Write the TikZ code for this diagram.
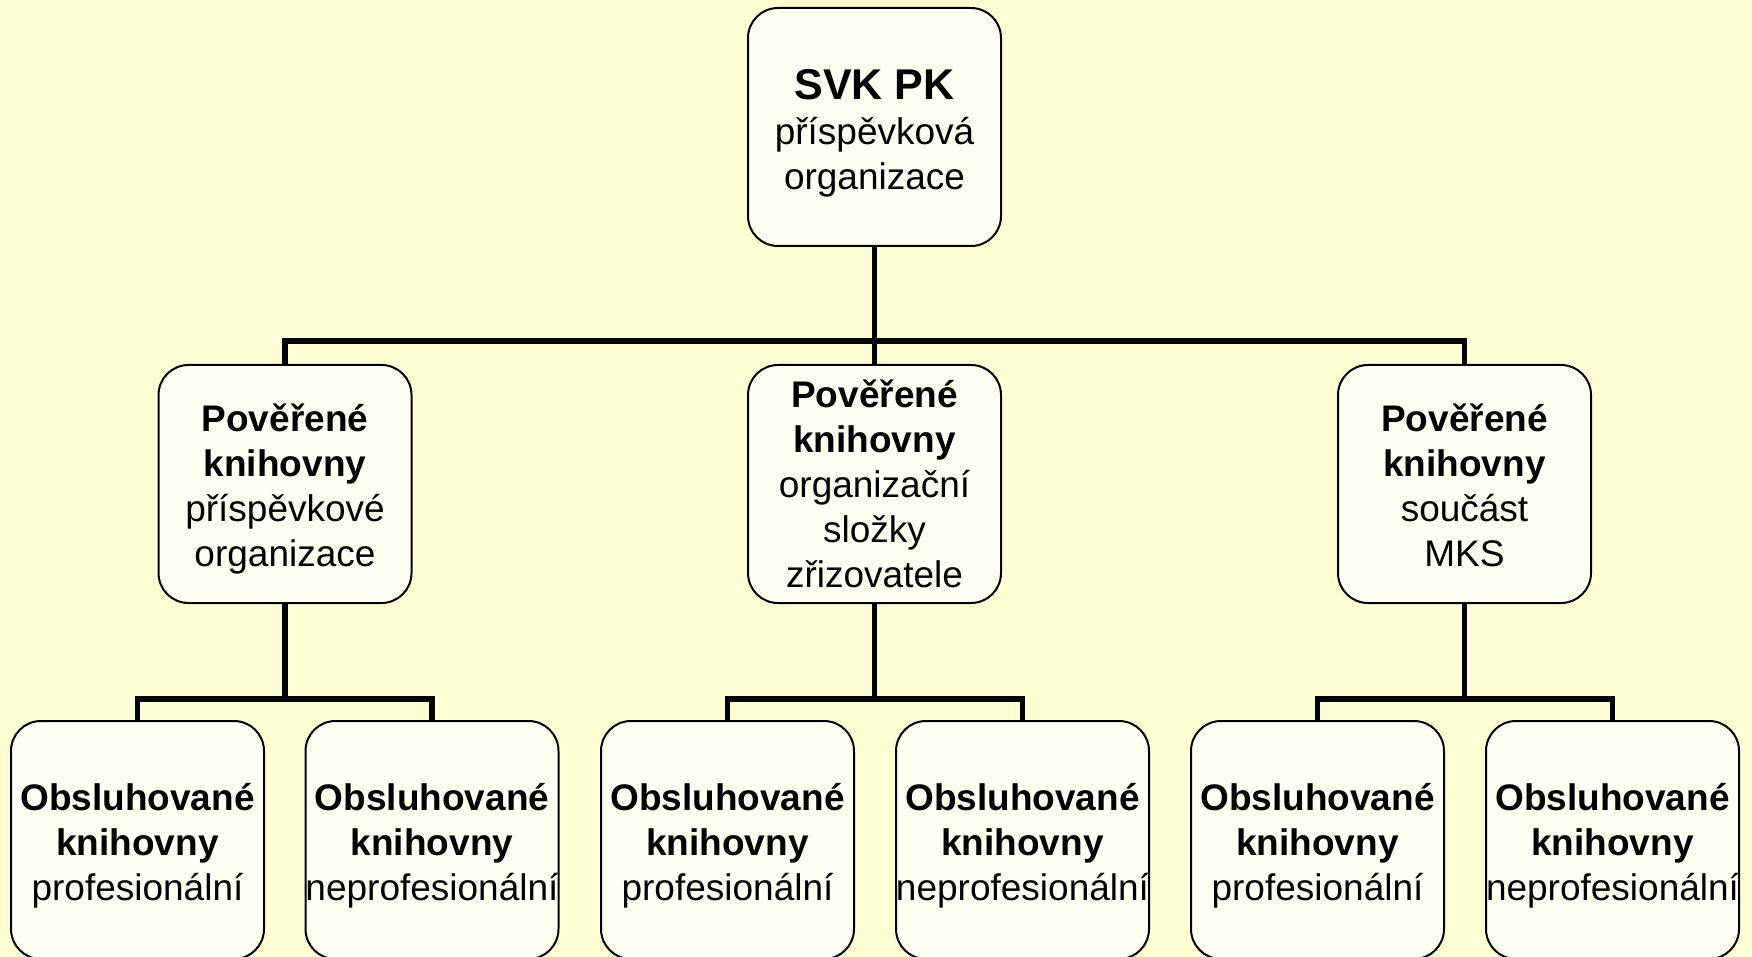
\documentclass[tikz,border=0pt]{standalone}
\usepackage{fontspec}
\setmainfont{Liberation Sans}
\definecolor{bgyellow}{RGB}{255,255,214}
\definecolor{boxfill}{RGB}{255,255,244}
\begin{document}
\begin{tikzpicture}[x=0.5pt,y=-0.5pt,
  orgbox/.style={draw=black, line width=1pt, fill=boxfill, rectangle,
    rounded corners=15pt, minimum width=126.5pt, minimum height=119pt,
    inner sep=0pt},
  boxtext/.style={align=center, inner sep=0pt,
    font=\fontsize{18.5}{22.5}\selectfont},
  conn/.style={draw=black, line width=2.75pt, line join=miter}]
\clip (0,0) rectangle (1752,957);
\fill[bgyellow] (0,0) rectangle (1752,957);

\node[orgbox, label={[boxtext,yshift=-3.1pt]center:{{\fontsize{21.5}{22.5}\selectfont\textbf{SVK PK}}\\příspěvková\\organizace}}] (top) at (874.5,127) {};

\node[orgbox, label={[boxtext,yshift=-2.5pt]center:{\textbf{Pověřené}\\\textbf{knihovny}\\příspěvkové\\organizace}}] (m1) at (285,484) {};
\node[orgbox, label={[boxtext]center:{\textbf{Pověřené}\\\textbf{knihovny}\\organizační\\složky\\zřizovatele}}] (m2) at (874.5,484) {};
\node[orgbox, label={[boxtext,yshift=-0.5pt]center:{\textbf{Pověřené}\\\textbf{knihovny}\\součást\\MKS}}] (m3) at (1464.5,484) {};

\node[orgbox, label={[boxtext,yshift=-2.7pt]center:{\textbf{Obsluhované}\\\textbf{knihovny}\\profesionální}}] (b1) at (137.5,840) {};
\node[orgbox, label={[boxtext,yshift=-2.7pt]center:{\textbf{Obsluhované}\\\textbf{knihovny}\\neprofesionální}}] (b2) at (432,840) {};
\node[orgbox, label={[boxtext,yshift=-2.7pt]center:{\textbf{Obsluhované}\\\textbf{knihovny}\\profesionální}}] (b3) at (727.5,840) {};
\node[orgbox, label={[boxtext,yshift=-2.7pt]center:{\textbf{Obsluhované}\\\textbf{knihovny}\\neprofesionální}}] (b4) at (1022.5,840) {};
\node[orgbox, label={[boxtext,yshift=-2.7pt]center:{\textbf{Obsluhované}\\\textbf{knihovny}\\profesionální}}] (b5) at (1317.5,840) {};
\node[orgbox, label={[boxtext,yshift=-2.7pt]center:{\textbf{Obsluhované}\\\textbf{knihovny}\\neprofesionální}}] (b6) at (1612.5,840) {};

\coordinate (j0) at (874.5,341);
\coordinate (j1) at (285,699);
\coordinate (j2) at (874.5,699);
\coordinate (j3) at (1464.5,699);

\draw[conn] (top.south) -- (j0);
\draw[conn] (m1.north) |- (j0) -| (m3.north);
\draw[conn] (j0) -- (m2.north);

\draw[conn] (m1.south) -- (j1);
\draw[conn] (b1.north) |- (j1) -| (b2.north);
\draw[conn] (m2.south) -- (j2);
\draw[conn] (b3.north) |- (j2) -| (b4.north);
\draw[conn] (m3.south) -- (j3);
\draw[conn] (b5.north) |- (j3) -| (b6.north);
\end{tikzpicture}
\end{document}
